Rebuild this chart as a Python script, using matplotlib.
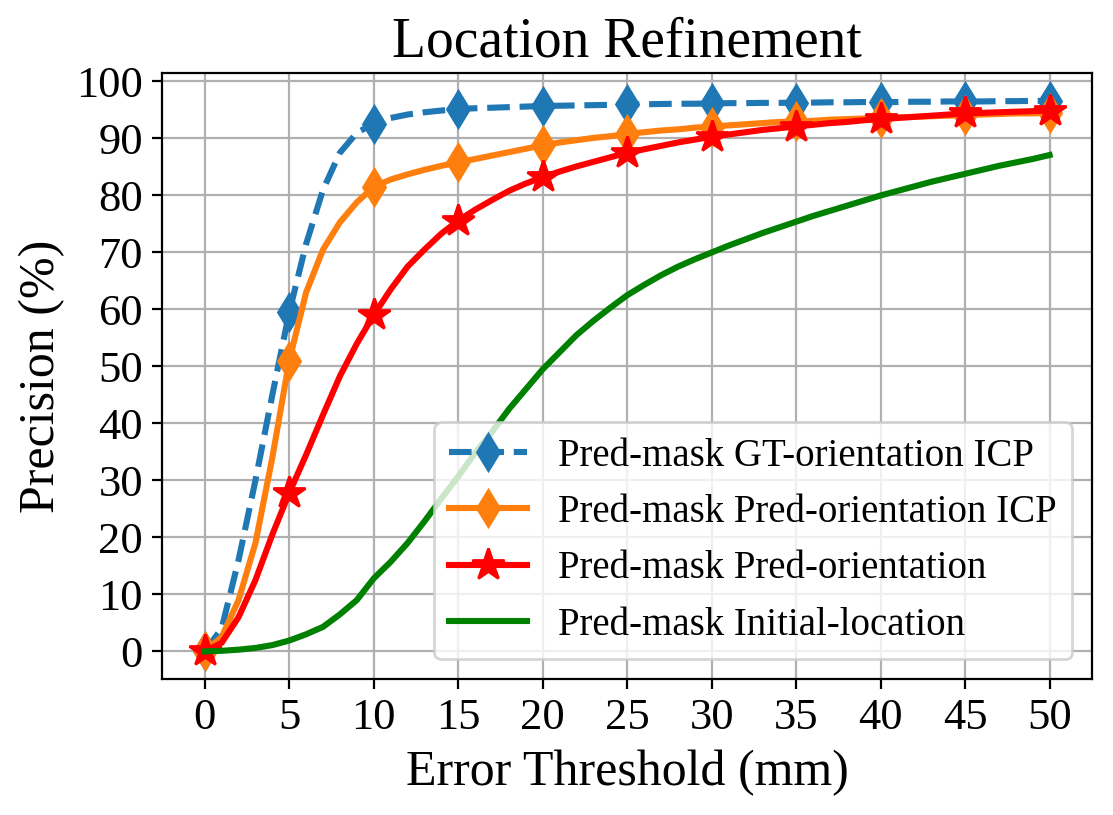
import numpy as np
import matplotlib
matplotlib.use("Agg")
import matplotlib.pyplot as plt

plt.rcParams['font.family'] = ['Liberation Serif', 'DejaVu Serif']
plt.rcParams['mathtext.fontset'] = 'stix'

# Error threshold in mm (one sample per mm, markers every 5 mm)
thresholds = np.arange(0, 51)

gt_orient_icp = [0, 4, 16, 30, 45, 59.5, 71.5, 81, 87.5, 91, 92.6,
                 93.6, 94.2, 94.6, 94.9, 95.2, 95.3, 95.4, 95.5, 95.6, 95.7,
                 95.75, 95.8, 95.85, 95.9, 96.0, 96.0, 96.05, 96.1, 96.1, 96.15,
                 96.2, 96.2, 96.25, 96.25, 96.3, 96.3, 96.35, 96.35, 96.4, 96.4,
                 96.4, 96.45, 96.45, 96.5, 96.5, 96.5, 96.55, 96.55, 96.6, 96.6]

pred_orient_icp = [0, 2.5, 9, 19, 34, 51, 63, 70.5, 75.3, 78.8, 81.5,
                   82.8, 83.7, 84.5, 85.2, 85.8, 86.4, 87.0, 87.6, 88.2, 88.8,
                   89.3, 89.7, 90.1, 90.4, 90.8, 91.1, 91.4, 91.6, 91.9, 92.1,
                   92.3, 92.5, 92.7, 92.9, 93.0, 93.1, 93.3, 93.4, 93.5, 93.6,
                   93.7, 93.8, 93.9, 94.0, 94.1, 94.2, 94.3, 94.4, 94.4, 94.5]

pred_orient = [0, 1.5, 6, 12.5, 20.5, 27.8, 34.5, 41.5, 48.3, 54, 59,
               63.5, 67.5, 70.5, 73.3, 75.6, 77.5, 79.2, 80.8, 82.1, 83.2,
               84.2, 85.1, 85.9, 86.7, 87.5, 88.1, 88.7, 89.3, 89.8, 90.3,
               90.7, 91.1, 91.5, 91.8, 92.1, 92.4, 92.7, 92.9, 93.2, 93.4,
               93.6, 93.8, 94.0, 94.2, 94.4, 94.5, 94.6, 94.7, 94.8, 94.9]

initial_location = [0, 0.1, 0.3, 0.6, 1.1, 1.9, 3.0, 4.3, 6.5, 9.0, 12.8,
                    15.7, 19.0, 22.8, 26.8, 30.7, 34.8, 38.5, 42.5, 46.0, 49.5,
                    52.5, 55.5, 58.0, 60.3, 62.5, 64.3, 66.0, 67.5, 68.8, 70.0,
                    71.2, 72.3, 73.4, 74.4, 75.4, 76.4, 77.3, 78.2, 79.1, 80.0,
                    80.8, 81.6, 82.4, 83.1, 83.8, 84.5, 85.2, 85.8, 86.4, 87.1]

fig, ax = plt.subplots(figsize=(5.565, 4.075), dpi=200)
fig.subplots_adjust(left=0.146, right=0.981, top=0.910, bottom=0.167)

ax.plot(thresholds, gt_orient_icp, color='tab:blue', linestyle='--', linewidth=2.2,
        marker='d', markersize=9, markevery=5, label='Pred-mask GT-orientation ICP')
ax.plot(thresholds, pred_orient_icp, color='tab:orange', linewidth=2.2,
        marker='d', markersize=9, markevery=5, label='Pred-mask Pred-orientation ICP')
ax.plot(thresholds, pred_orient, color='red', linewidth=2.2,
        marker='*', markersize=12, markevery=5, label='Pred-mask Pred-orientation')
ax.plot(thresholds, initial_location, color='green', linewidth=2.2,
        label='Pred-mask Initial-location')

ax.set_xticks(np.arange(0, 51, 5))
ax.set_yticks(np.arange(0, 101, 10))
ax.tick_params(labelsize=16)
ax.grid(True)
ax.set_title('Location Refinement', fontsize=20)
ax.set_xlabel('Error Threshold (mm)', fontsize=18)
ax.set_ylabel('Precision (%)', fontsize=18)
ax.legend(loc='lower right', fontsize=14)

fig.savefig('out.png', dpi=200)
